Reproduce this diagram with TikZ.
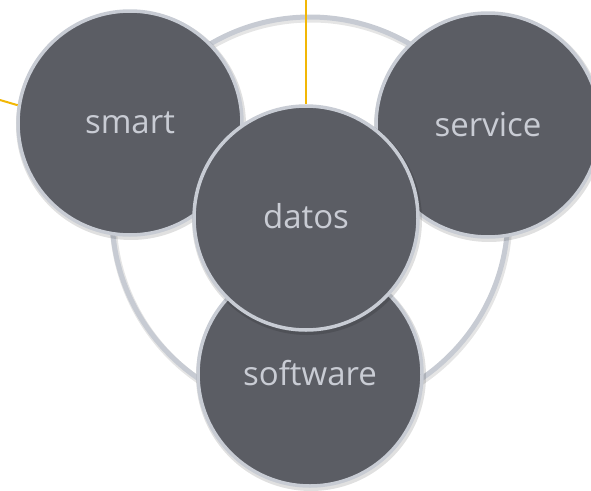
\documentclass[tikz,border=0pt]{standalone}
\usepackage{fontspec}
\setmainfont{Open Sans}
\definecolor{ballfill}{HTML}{5B5D64}
\definecolor{ballline}{HTML}{C8CCD4}
\definecolor{balltext}{HTML}{C9CCD4}
\definecolor{ringcol}{HTML}{C7CBD3}
\definecolor{gold}{HTML}{F2B705}
\begin{document}
\begin{tikzpicture}[x=1pt,y=-1pt,
  ball/.style={circle,inner sep=0pt,minimum size=224pt,fill=ballfill,draw=ballline,line width=3.5pt,
    text=balltext,font=\fontsize{33}{34}\selectfont},
  ballshadow/.style={circle,inner sep=0pt,minimum size=230pt,fill=black,opacity=0.12},
  ring/.style={draw=ringcol,line width=5pt},
  ringshadow/.style={draw=black,opacity=0.10,line width=7pt},
  callout/.style={draw=gold,line width=2pt}]
\useasboundingbox (0,0) rectangle (591,490);
% ring
\node[circle,inner sep=0pt,minimum size=396pt] (ringnode) at (310,215) {};
\draw[ringshadow] (311,217) circle[radius=198];
\draw[ring] (ringnode.center) circle[radius=198];
% shadows
\node[ballshadow] at (131,125) {};
\node[ballshadow] at (489,127) {};
\node[ballshadow] at (311,376) {};
% circles
\node[ball] (smart) at (130,123) {smart};
\node[ball] (service) at (488,125) {service};
\node[ball] (software) at (310,374) {\raisebox{2pt}{software}};
\node[ballshadow] at (307,220) {};
\node[ball] (datos) at (306,218) {\raisebox{4pt}{datos}};
% callouts
\coordinate (topend) at (306,0);
\coordinate (leftend) at (0,100);
\draw[callout] (topend) -- (datos.north);
\draw[callout] (leftend) -- (smart.171);
\end{tikzpicture}
\end{document}
